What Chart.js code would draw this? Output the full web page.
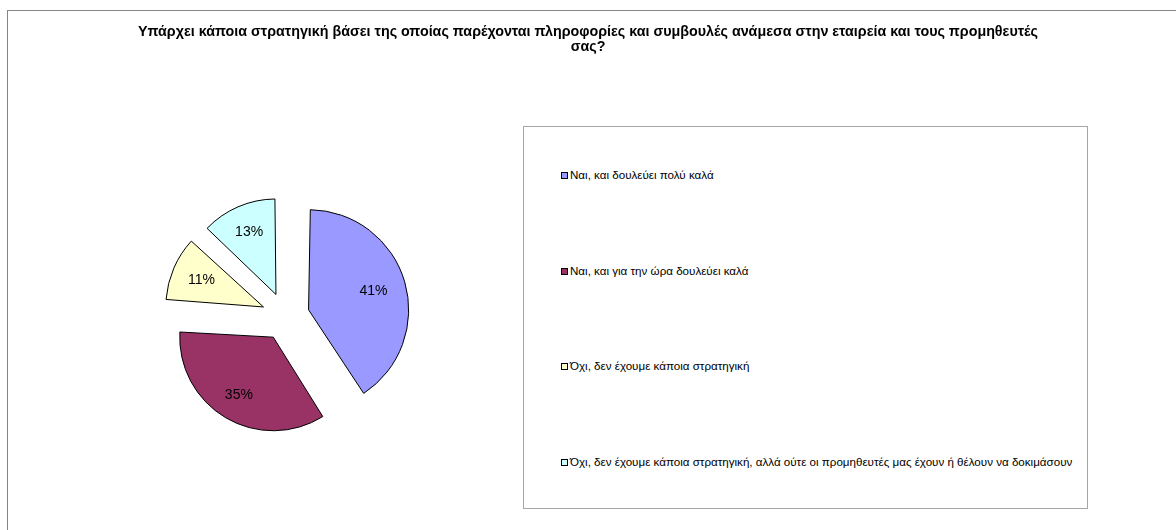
<!DOCTYPE html>
<html>
<head>
<meta charset="utf-8">
<script src="https://cdn.jsdelivr.net/npm/chart.js@4/dist/chart.umd.min.js"></script>
<style>
    html, body { margin: 0; padding: 0; background: #fff; overflow: hidden; }
    body { width: 1176px; height: 530px; position: relative; font-family: "Liberation Sans", Arial, sans-serif; }
    #frame { position: absolute; left: 7px; top: 10px; width: 1300px; height: 700px; border: 1px solid #858585; }
    #title { position: absolute; left: 0; top: 24px; width: 1176px; text-align: center;
             font-weight: bold; font-size: 14.3px; line-height: 14.5px; color: #000; }
    #pie { position: absolute; left: 0; top: 0; }
    #legend { position: absolute; left: 523px; top: 126px; width: 563px; height: 381px;
              border: 1px solid #a6a6a6; background: #fff; }
    #legend ul { list-style: none; margin: 0; padding: 42px 0 0 37px; }
    #legend li { height: 12px; line-height: 12px; font-size: 11.6px; color: #000; white-space: nowrap; }
    #legend li + li { margin-top: 83.5px; }
    #legend .sw { display: inline-block; width: 5px; height: 5px; border: 1px solid #000;
                  margin-right: 2px; vertical-align: 0px; }
</style>
</head>
<body>
<div id="frame"></div>
<canvas id="pie" width="1176" height="530"></canvas>
<div id="title"></div>
<div id="legend"><ul id="legend-list"></ul></div>

<script>
// --- Données ---
const titleLines = [
    'Υπάρχει κάποια στρατηγική βάσει της οποίας παρέχονται πληροφορίες και συμβουλές ανάμεσα στην εταιρεία και τους προμηθευτές',
    'σας?'
];
const categories = [
    'Ναι, και δουλεύει πολύ καλά',
    'Ναι, και για την ώρα δουλεύει καλά',
    'Όχι, δεν έχουμε κάποια στρατηγική',
    'Όχι, δεν έχουμε κάποια στρατηγική, αλλά ούτε οι προμηθευτές μας έχουν ή θέλουν να δοκιμάσουν'
];
const shares = [41, 35, 11, 13];
const sliceColors = ['#9999ff', '#993366', '#ffffcc', '#ccffff'];

// --- Titre ---
document.getElementById('title').innerHTML = titleLines.join('<br>');

// --- Étiquettes % sur les parts ---
const percentLabels = {
    id: 'percentLabels',
    afterDatasetsDraw(chart) {
        const ctx = chart.ctx;
        const meta = chart.getDatasetMeta(0);
        const values = chart.data.datasets[0].data;
        const total = values.reduce((a, b) => a + b, 0);
        ctx.save();
        ctx.font = '14px "Liberation Sans", Arial, sans-serif';
        ctx.fillStyle = '#000';
        ctx.textAlign = 'center';
        ctx.textBaseline = 'middle';
        meta.data.forEach((arc, i) => {
            const p = arc.getProps(['x', 'y', 'startAngle', 'endAngle', 'outerRadius'], true);
            const mid = (p.startAngle + p.endAngle) / 2;
            const dist = (arc.options.offset || 0) / 4 + p.outerRadius * 0.76;
            const txt = Math.round(values[i] / total * 100) + '%';
            ctx.fillText(txt, p.x + Math.cos(mid) * dist, p.y + Math.sin(mid) * dist);
        });
        ctx.restore();
    }
};

// --- Camembert ---
const chart = new Chart(document.getElementById('pie').getContext('2d'), {
    type: 'pie',
    data: {
        labels: categories,
        datasets: [{
            data: shares,
            backgroundColor: sliceColors,
            borderColor: '#000',
            borderWidth: 1,
            offset: 96,
            radius: 89
        }]
    },
    options: {
        responsive: false,
        animation: false,
        layout: { padding: { left: 0, right: 605, top: 103, bottom: 0 } },
        plugins: {
            legend: { display: false },
            tooltip: { enabled: false }
        }
    },
    plugins: [percentLabels]
});

// --- Légende HTML ---
const list = document.getElementById('legend-list');
chart.options.plugins.legend.labels.generateLabels(chart).forEach(item => {
    const li = document.createElement('li');
    const sw = document.createElement('span');
    sw.className = 'sw';
    sw.style.background = item.fillStyle;
    li.appendChild(sw);
    li.appendChild(document.createTextNode(item.text));
    list.appendChild(li);
});
</script>
</body>
</html>
